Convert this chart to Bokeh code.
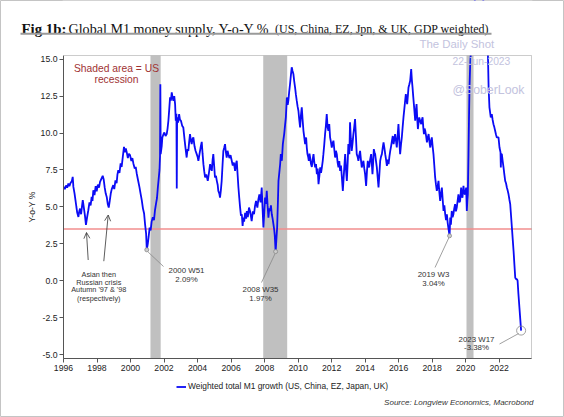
from bokeh.plotting import figure
from bokeh.models import (Range1d, FixedTicker, NumeralTickFormatter, BoxAnnotation,
                          Label, Arrow, OpenHead, Legend, LegendItem)
from bokeh.embed import file_html
from bokeh.resources import INLINE

# Weighted M1 growth, Y-o-Y %, observation dates as decimal years
dates = [
    1996.02, 1996.08, 1996.15, 1996.22, 1996.29, 1996.35, 1996.42, 1996.50, 1996.55, 1996.59,
    1996.66, 1996.72, 1996.77, 1996.82, 1996.89, 1996.94, 1996.99, 1997.05, 1997.10, 1997.15,
    1997.22, 1997.28, 1997.34, 1997.41, 1997.48, 1997.55, 1997.62, 1997.68, 1997.73, 1997.78,
    1997.85, 1997.92, 1997.98, 1998.05, 1998.12, 1998.18, 1998.26, 1998.34, 1998.40, 1998.46,
    1998.52, 1998.58, 1998.64, 1998.70, 1998.76, 1998.82, 1998.88, 1998.97, 1999.03, 1999.10,
    1999.17, 1999.22, 1999.27, 1999.34, 1999.41, 1999.47, 1999.54, 1999.61, 1999.66, 1999.72,
    1999.77, 1999.84, 1999.90, 1999.97, 2000.05, 2000.11, 2000.17, 2000.25, 2000.31, 2000.37,
    2000.45, 2000.53, 2000.60, 2000.67, 2000.74, 2000.81, 2000.87, 2000.93, 2000.97, 2001.03,
    2001.08, 2001.14, 2001.20, 2001.26, 2001.33, 2001.40, 2001.46, 2001.52, 2001.58, 2001.63,
    2001.68, 2001.73, 2001.76, 2001.78, 2001.80, 2001.86, 2001.90, 2001.96, 2002.02, 2002.09,
    2002.16, 2002.21, 2002.26, 2002.31, 2002.36, 2002.41, 2002.46, 2002.51, 2002.56, 2002.61,
    2002.66, 2002.70, 2002.74, 2002.76, 2002.78, 2002.84, 2002.90, 2002.95, 2003.01, 2003.08,
    2003.15, 2003.22, 2003.28, 2003.35, 2003.40, 2003.45, 2003.50, 2003.55, 2003.60, 2003.65,
    2003.70, 2003.75, 2003.82, 2003.88, 2003.95, 2004.00, 2004.05, 2004.12, 2004.18, 2004.25,
    2004.30, 2004.35, 2004.40, 2004.45, 2004.52, 2004.61, 2004.68, 2004.75, 2004.80, 2004.85,
    2004.90, 2004.94, 2004.99, 2005.04, 2005.10, 2005.15, 2005.20, 2005.24, 2005.30, 2005.34,
    2005.39, 2005.44, 2005.49, 2005.54, 2005.59, 2005.64, 2005.69, 2005.74, 2005.79, 2005.84,
    2005.90, 2005.97, 2006.04, 2006.10, 2006.17, 2006.24, 2006.29, 2006.34, 2006.39, 2006.44,
    2006.49, 2006.54, 2006.59, 2006.64, 2006.69, 2006.73, 2006.78, 2006.84, 2006.90, 2006.94,
    2007.00, 2007.07, 2007.13, 2007.18, 2007.23, 2007.30, 2007.37, 2007.43, 2007.49, 2007.57,
    2007.63, 2007.69, 2007.76, 2007.83, 2007.88, 2007.93, 2007.98, 2008.03, 2008.08, 2008.13,
    2008.18, 2008.23, 2008.28, 2008.33, 2008.38, 2008.43, 2008.48, 2008.53, 2008.58, 2008.61,
    2008.66, 2008.71, 2008.75, 2008.80, 2008.83, 2008.89, 2008.93, 2008.97, 2009.03, 2009.09,
    2009.13, 2009.17, 2009.22, 2009.27, 2009.33, 2009.38, 2009.42, 2009.47, 2009.52, 2009.57,
    2009.62, 2009.67, 2009.72, 2009.77, 2009.82, 2009.87, 2009.92, 2009.97, 2010.02, 2010.07,
    2010.12, 2010.17, 2010.22, 2010.27, 2010.32, 2010.37, 2010.42, 2010.48, 2010.52, 2010.56,
    2010.60, 2010.64, 2010.68, 2010.72, 2010.77, 2010.82, 2010.87, 2010.92, 2010.97, 2011.02,
    2011.07, 2011.12, 2011.17, 2011.22, 2011.27, 2011.32, 2011.37, 2011.42, 2011.47, 2011.51,
    2011.56, 2011.61, 2011.66, 2011.71, 2011.76, 2011.81, 2011.86, 2011.91, 2011.96, 2012.01,
    2012.06, 2012.11, 2012.16, 2012.21, 2012.26, 2012.31, 2012.36, 2012.41, 2012.46, 2012.51,
    2012.56, 2012.60, 2012.67, 2012.72, 2012.77, 2012.81, 2012.86, 2012.91, 2012.96, 2013.00,
    2013.06, 2013.10, 2013.15, 2013.20, 2013.25, 2013.30, 2013.35, 2013.40, 2013.45, 2013.50,
    2013.55, 2013.60, 2013.65, 2013.70, 2013.75, 2013.80, 2013.85, 2013.90, 2013.95, 2014.00,
    2014.06, 2014.11, 2014.16, 2014.20, 2014.24, 2014.30, 2014.36, 2014.40, 2014.44, 2014.48,
    2014.52, 2014.56, 2014.60, 2014.65, 2014.70, 2014.75, 2014.80, 2014.85, 2014.90, 2014.95,
    2015.00, 2015.05, 2015.10, 2015.15, 2015.20, 2015.25, 2015.30, 2015.35, 2015.40, 2015.45,
    2015.50, 2015.55, 2015.60, 2015.65, 2015.70, 2015.75, 2015.79, 2015.84, 2015.89, 2015.94,
    2015.99, 2016.04, 2016.09, 2016.14, 2016.19, 2016.24, 2016.29, 2016.35, 2016.39, 2016.43,
    2016.47, 2016.51, 2016.55, 2016.59, 2016.64, 2016.69, 2016.75, 2016.79, 2016.83, 2016.87,
    2016.91, 2016.95, 2016.99, 2017.03, 2017.07, 2017.11, 2017.15, 2017.19, 2017.23, 2017.29,
    2017.35, 2017.39, 2017.43, 2017.47, 2017.51, 2017.55, 2017.59, 2017.64, 2017.69, 2017.74,
    2017.79, 2017.84, 2017.89, 2017.94, 2017.98, 2018.03, 2018.08, 2018.13, 2018.18, 2018.23,
    2018.28, 2018.33, 2018.38, 2018.43, 2018.48, 2018.53, 2018.58, 2018.63, 2018.68, 2018.73,
    2018.78, 2018.83, 2018.88, 2018.93, 2018.98, 2019.04, 2019.08, 2019.12, 2019.17, 2019.22,
    2019.27, 2019.32, 2019.37, 2019.42, 2019.47, 2019.52, 2019.57, 2019.62, 2019.67, 2019.73,
    2019.77, 2019.81, 2019.87, 2019.92, 2019.97, 2020.03, 2020.07, 2020.10, 2020.13, 2020.17,
    2020.20, 2020.23, 2020.27, 2020.31, 2020.40, 2020.55, 2020.70, 2020.85, 2021.00, 2021.15,
    2021.28, 2021.33, 2021.37, 2021.42, 2021.46, 2021.50, 2021.56, 2021.61, 2021.66, 2021.71,
    2021.76, 2021.81, 2021.86, 2021.96, 2022.02, 2022.08, 2022.10, 2022.12, 2022.16, 2022.21,
    2022.26, 2022.31, 2022.36, 2022.41, 2022.46, 2022.51, 2022.56, 2022.61, 2022.66, 2022.71,
    2022.76, 2022.81, 2022.86, 2022.91, 2022.96, 2023.02, 2023.06, 2023.10, 2023.15, 2023.21,
    2023.26, 2023.31,
]
growth = [
    6.35, 6.20, 6.45, 6.30, 6.58, 6.40, 6.62, 6.75, 7.03, 6.35,
    5.90, 5.40, 4.99, 4.60, 4.32, 4.70, 4.88, 4.50, 5.00, 5.45,
    4.90, 4.40, 3.78, 4.30, 4.77, 5.30, 5.10, 5.67, 5.40, 6.12,
    5.80, 6.40, 6.05, 6.50, 6.30, 6.69, 6.90, 7.10, 6.85, 6.30,
    5.90, 5.67, 5.20, 4.95, 5.40, 5.90, 6.20, 6.47, 6.20, 6.80,
    6.60, 7.20, 7.48, 7.30, 7.94, 7.70, 8.40, 9.06, 8.70, 8.95,
    8.72, 8.30, 8.60, 8.50, 8.10, 8.30, 7.94, 7.60, 7.70, 7.26,
    6.80, 6.35, 5.90, 5.45, 4.90, 4.55, 3.80, 3.19, 2.09, 2.50,
    2.96, 3.60, 3.40, 4.00, 4.30, 4.10, 4.77, 5.20, 5.60, 6.30,
    6.90, 7.50, 8.40, 13.30, 8.57, 9.10, 9.70, 9.90, 10.04, 9.80,
    9.93, 10.30, 10.83, 11.60, 12.41, 12.20, 12.75, 12.40, 12.19, 12.50,
    11.96, 10.83, 11.30, 6.24, 11.06, 10.70, 11.28, 10.90, 10.83, 10.50,
    10.38, 9.60, 9.00, 8.34, 8.90, 8.79, 9.40, 9.93, 9.50, 9.25,
    9.60, 9.70, 9.10, 8.80, 8.57, 8.40, 8.12, 8.60, 9.00, 9.40,
    8.60, 7.89, 7.40, 6.99, 7.20, 6.76, 7.30, 7.89, 7.60, 7.44,
    8.20, 8.57, 7.80, 6.99, 7.10, 6.76, 6.50, 6.08, 5.90, 5.63,
    6.10, 6.76, 7.80, 8.79, 9.00, 9.25, 8.70, 8.34, 8.80, 8.57,
    8.30, 8.50, 8.12, 7.80, 8.00, 7.44, 7.90, 8.12, 7.20, 6.31,
    5.60, 4.95, 4.40, 4.50, 3.70, 4.27, 4.00, 4.60, 4.20, 4.72,
    4.30, 4.95, 4.72, 4.40, 4.04, 4.70, 4.50, 5.06, 5.40, 4.95,
    5.50, 5.85, 5.30, 6.31, 4.90, 3.60, 4.60, 5.63, 5.20, 6.08,
    5.10, 4.27, 4.90, 4.72, 5.10, 4.50, 4.20, 3.82, 3.40, 3.03,
    1.97, 2.90, 3.60, 5.50, 6.76, 7.44, 7.90, 8.57, 8.12, 9.25,
    9.60, 9.93, 10.50, 11.06, 12.41, 11.90, 12.19, 12.80, 13.32, 13.90,
    14.45, 14.20, 14.00, 13.50, 13.09, 12.60, 12.19, 11.80, 11.51, 10.90,
    10.38, 11.20, 11.74, 10.90, 10.15, 9.70, 9.25, 9.70, 9.00, 8.57,
    8.40, 8.12, 8.60, 8.34, 7.90, 7.70, 8.20, 8.57, 8.00, 7.67,
    7.90, 7.21, 7.60, 6.53, 7.10, 7.67, 7.30, 7.67, 8.10, 8.57,
    9.20, 9.93, 10.50, 11.28, 10.40, 10.15, 10.60, 9.70, 9.40, 9.02,
    9.30, 9.48, 8.90, 8.34, 8.80, 8.57, 8.00, 7.67, 8.10, 7.44,
    7.80, 7.21, 6.08, 7.00, 7.89, 8.57, 7.50, 6.76, 8.00, 9.25,
    8.57, 10.72, 9.60, 8.79, 9.30, 9.93, 10.40, 10.94, 9.80, 8.57,
    8.40, 8.12, 8.50, 8.79, 8.20, 7.67, 7.90, 8.12, 7.60, 7.21,
    6.42, 7.40, 8.12, 7.80, 7.67, 8.20, 8.57, 7.90, 7.21, 8.00,
    8.91, 8.70, 8.57, 8.10, 7.67, 7.00, 6.31, 7.20, 8.12, 8.40,
    8.57, 9.00, 9.36, 9.00, 8.57, 8.20, 7.78, 8.20, 7.89, 8.40,
    8.79, 9.10, 9.47, 9.80, 9.25, 9.60, 9.93, 9.50, 9.02, 9.80,
    10.60, 9.50, 8.57, 9.20, 9.70, 10.40, 11.06, 11.74, 12.20, 12.64,
    12.30, 11.96, 12.50, 13.09, 13.30, 13.54, 14.33, 13.60, 13.09, 12.50,
    11.96, 11.40, 10.83, 11.50, 11.96, 11.00, 10.27, 10.70, 11.06, 10.80,
    10.60, 10.90, 11.06, 10.40, 9.93, 10.30, 10.15, 9.80, 9.36, 9.70,
    9.93, 9.40, 9.02, 9.50, 9.70, 9.10, 8.57, 7.80, 6.99, 6.50,
    6.08, 6.40, 6.76, 6.00, 5.40, 5.90, 6.31, 5.50, 4.72, 5.10,
    4.50, 4.10, 4.50, 3.90, 3.50, 3.04, 4.27, 3.80, 4.72, 4.30,
    4.50, 4.90, 5.18, 4.70, 4.95, 5.40, 5.85, 5.30, 5.40, 6.31,
    5.70, 5.63, 6.42, 5.90, 5.85, 6.31, 4.72, 5.40, 5.85, 8.57,
    11.00, 13.09, 14.60, 15.50, 17.50, 19.00, 19.80, 20.30, 19.50, 18.00,
    16.00, 15.30, 13.09, 11.74, 11.40, 11.06, 11.28, 10.90, 10.60, 10.40,
    10.15, 9.90, 9.70, 9.70, 9.02, 8.70, 7.67, 8.57, 8.57, 8.10,
    7.67, 7.20, 6.76, 6.60, 6.31, 6.10, 5.85, 5.50, 5.18, 4.40,
    3.60, 2.80, 2.01, 1.10, 0.20, 0.09, 0.10, 0.00, -0.90, -1.83,
    -2.60, -3.38,
]

x_tick_years = list(range(1996, 2023, 2))
y_tick_values = [-5.0, -2.5, 0.0, 2.5, 5.0, 7.5, 10.0, 12.5, 15.0]

# US recessions (NBER), decimal years
recession_start = [2001.19, 2007.92, 2020.05]
recession_end = [2001.80, 2009.35, 2020.47]

# Annotated troughs
callout_dates = [2000.97, 2008.66, 2019.04, 2023.31]
callout_weeks = ["2000 W51", "2008 W35", "2019 W3", "2023 W17"]
callout_values = [2.09, 1.97, 3.04, -3.38]

reference_level = 3.5

SANS = "Liberation Sans"
SERIF = "Liberation Serif"
LINE_COLOR = "#0b0bf5"
FRAME_COLOR = "#555555"
NOTE_COLOR = "#333333"

# The whole page is the plotting area; the chart box sits inside it and the
# axes are pinned to the box edges, so titles and notes can live around it.
W, H = 564, 417
FL, FR, FT, FB = 63, 531, 55, 358              # chart box edges on the page (px)
X0, X1 = 1996.0, 2023.93
Y0, Y1 = -5.27, 15.25


def cx(px):
    """Page column -> data x."""
    return X0 + (px - FL) * (X1 - X0) / (FR - FL)


def cy(py):
    """Page row -> data y."""
    return Y1 - (py - FT) * (Y1 - Y0) / (FB - FT)


p = figure(width=W, height=H, output_backend="svg", toolbar_location=None,
           x_range=Range1d(cx(0), cx(W)), y_range=Range1d(cy(H), cy(0)),
           min_border_left=0, min_border_right=0, min_border_top=0, min_border_bottom=0)
p.background_fill_color = "white"
p.border_fill_color = "white"
p.outline_line_color = "#c4c4c4"
p.outline_line_width = 1
p.xgrid.visible = False
p.ygrid.visible = False

xa, ya = p.xaxis[0], p.yaxis[0]
xa.fixed_location = Y0
xa.bounds = (X0, X1)
ya.fixed_location = X0
ya.bounds = (Y0, Y1)
xa.ticker = FixedTicker(ticks=x_tick_years)
xa.formatter = NumeralTickFormatter(format="0")
ya.ticker = FixedTicker(ticks=y_tick_values)
ya.formatter = NumeralTickFormatter(format="0.0")
for ax in (xa, ya):
    ax.axis_line_color = FRAME_COLOR
    ax.major_tick_line_color = FRAME_COLOR
    ax.major_tick_in = 0
    ax.major_tick_out = 4
    ax.minor_tick_line_color = None
    ax.major_label_text_font = SANS
    ax.major_label_text_font_size = "8.7px"
    ax.major_label_text_color = "#222222"
    ax.major_label_standoff = 2
ya.axis_label = "Y-o-Y %"
ya.axis_label_text_font = SANS
ya.axis_label_text_font_size = "8.6px"
ya.axis_label_text_font_style = "normal"
ya.axis_label_text_color = "#222222"
ya.axis_label_standoff = 1

# recession shading and the 3.5% reference line
for s, e in zip(recession_start, recession_end):
    p.add_layout(BoxAnnotation(left=s, right=e, bottom=Y0, top=Y1, fill_color="#c0c0c0",
                               fill_alpha=1.0, line_color=None, level="underlay"))
p.segment([X0], [reference_level], [X1], [reference_level], line_color="#f28e8e", line_width=1.5)

series = p.line(dates, growth, line_color=LINE_COLOR, line_width=1.8)

# keep the series inside the chart box where it runs off the top
p.add_layout(BoxAnnotation(left=X0 - 0.05, right=X1 + 0.05, bottom=Y1, top=cy(0),
                           fill_color="white", fill_alpha=1.0, line_color=None))
p.add_layout(BoxAnnotation(left=X0, right=X1, bottom=Y0, top=Y1, fill_alpha=0.0,
                           line_color=FRAME_COLOR, line_width=1))

# trough markers and leader lines
p.scatter(callout_dates[:3], callout_values[:3], size=4, fill_color="#cccccc",
          line_color="#888888", line_width=0.8)
p.scatter(callout_dates[3:], callout_values[3:], size=9, fill_color=None,
          line_color="#888888", line_width=0.8)

label_pos = [(cx(186), cy(270), cy(279)), (cx(260), cy(289), cy(298)),
             (cx(433), cy(274), cy(282.5)), (cx(476), cy(338.5), cy(347))]
leader_end = [(cx(163), cy(266)), (cx(261), cy(282)), (cx(434.5), cy(267)), (cx(499), cy(343.5))]
leader_offset = [(0.08, -0.15), (-0.04, -0.15), (-0.05, -0.15), (-0.15, -0.2)]
leader_start = [(d + dx, v + dy) for d, v, (dx, dy) in zip(callout_dates, callout_values, leader_offset)]
p.segment([a for a, _ in leader_start], [b for _, b in leader_start],
          [a for a, _ in leader_end], [b for _, b in leader_end],
          line_color="#888888", line_width=0.8)
for (lx, ly1, ly2), wk, v in zip(label_pos, callout_weeks, callout_values):
    for txt, ly in ((wk, ly1), (f"{v:.2f}%", ly2)):
        p.add_layout(Label(x=lx, y=ly, text=txt, text_align="center", text_baseline="middle",
                           text_font=SANS, text_font_size="7.9px", text_color=NOTE_COLOR))

# crisis note with arrows
crisis_lines = ["Asian then", "Russian crisis", "Autumn '97 & '98", "(respectively)"]
for txt, py in zip(crisis_lines, [274, 281.7, 289.3, 297.7]):
    p.add_layout(Label(x=cx(98.3), y=cy(py), text=txt, text_align="center",
                       text_baseline="middle", text_font=SANS, text_font_size="7.3px",
                       text_color=NOTE_COLOR))
for (x0, y0, x1, y1) in [(87.7, 259.5, 86.0, 232.0), (103.3, 260.7, 107.7, 214.5)]:
    p.add_layout(Arrow(end=OpenHead(size=6, line_color=NOTE_COLOR, line_width=0.8),
                       x_start=cx(x0), y_start=cy(y0), x_end=cx(x1), y_end=cy(y1),
                       line_color=NOTE_COLOR, line_width=0.8))

for txt, py in (("Shaded area = US", 68.3), ("recession", 79.3)):
    p.add_layout(Label(x=cx(116), y=cy(py), text=txt, text_align="center",
                       text_baseline="middle", text_font=SANS, text_font_size="10.3px",
                       text_color="#a03232"))

# title block
p.add_layout(Label(x=cx(21), y=cy(28.5), text="Fig 1b:", text_font=SERIF, text_font_size="14.8px",
                   text_font_style="bold", text_color="#111111", text_baseline="alphabetic"))
p.add_layout(Label(x=cx(68), y=cy(28.5), text="Global M1 money supply, Y-o-Y %", text_font=SERIF,
                   text_font_size="14.1px", text_color="#111111", text_baseline="alphabetic"))
p.add_layout(Label(x=cx(274.5), y=cy(28.5), text="(US, China, EZ, Jpn, & UK, GDP weighted)",
                   text_font=SERIF, text_font_size="12px", text_color="#111111",
                   text_baseline="alphabetic"))
p.add_layout(BoxAnnotation(left=cx(20), right=cx(491), top=cy(32.2), bottom=cy(34.2),
                           fill_color="#9a9a9a", fill_alpha=1.0, line_color=None))

# masthead
for txt, px, py, fs in (("The Daily Shot", 419, 43, "11.4px"), ("22-Jun-2023", 452, 61, "10.3px"),
                        ("@SoberLook", 452, 89.5, "12.3px")):
    p.add_layout(Label(x=cx(px), y=cy(py), text=txt, text_font=SANS, text_font_size=fs,
                       text_color="#c3c3de", text_baseline="middle"))

# legend key under the chart
legend = Legend(items=[LegendItem(label="Weighted total M1 growth (US, China, EZ, Japan, UK)",
                                  renderers=[series])],
                location=(176, H - 391.5), padding=0, margin=0, spacing=0,
                glyph_width=10, glyph_height=11, label_standoff=2, label_height=11,
                label_text_font=SANS, label_text_font_size="8.4px", label_text_color="#222222",
                label_text_baseline="middle",
                border_line_color=None, background_fill_alpha=0.0)
p.add_layout(legend)

p.add_layout(Label(x=cx(533), y=cy(402), text="Source: Longview Economics, Macrobond",
                   text_align="right", text_baseline="middle", text_font=SANS,
                   text_font_size="8px", text_font_style="italic", text_color=NOTE_COLOR))

open("out.html", "w").write(file_html(p, INLINE))
